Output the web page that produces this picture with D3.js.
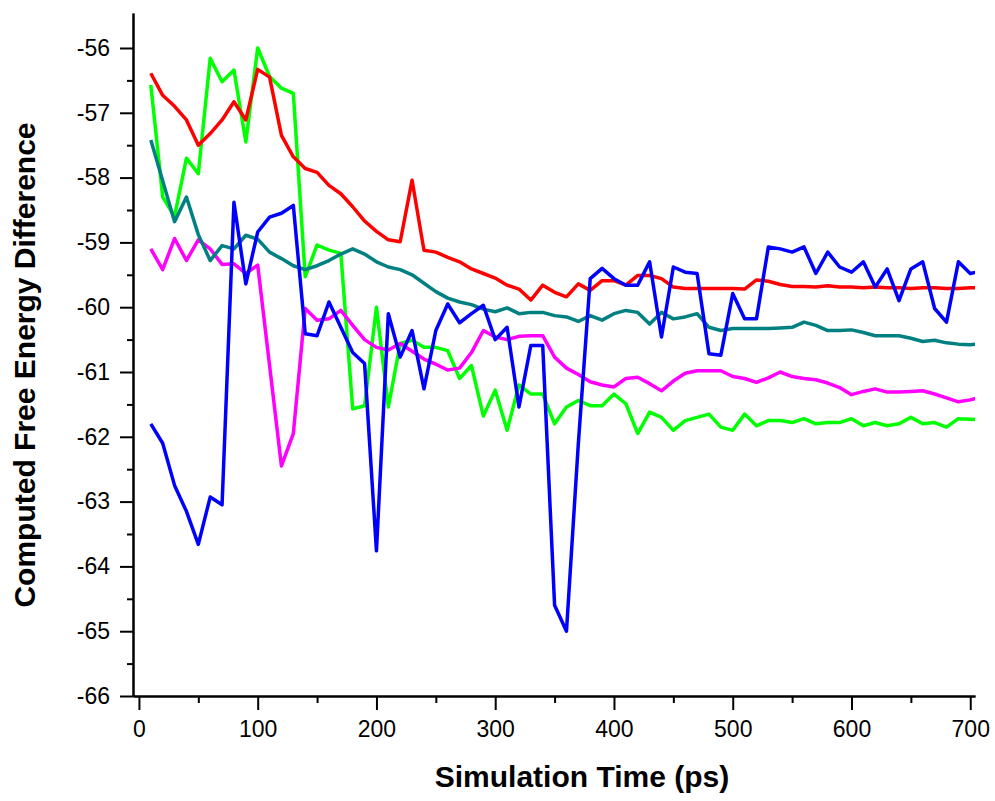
<!DOCTYPE html>
<html>
<head>
<meta charset="utf-8">
<script src="https://cdnjs.cloudflare.com/ajax/libs/d3/7.8.5/d3.min.js"></script>
<style>
  body { margin: 0; background: #fff; }
  svg { display: block; }
  .axis path, .axis line { stroke: #000; stroke-width: 2; }
  .axis text { font-family: "Liberation Sans", Arial, sans-serif; font-size: 23px; fill: #000; }
  .title { font-family: "Liberation Sans", Arial, sans-serif; font-weight: bold; font-size: 30px; fill: #000; }
</style>
</head>
<body>
<svg id="svg1" width="995" height="801"></svg>
<script>
// sampling times (ps)
var timePs = [10,20,30,40,50,60,70,80,90,100,110,120,130,140,150,160,170,180,190,200,
  210,220,230,240,250,260,270,280,290,300,310,320,330,340,350,360,370,380,390,400,
  410,420,430,440,450,460,470,480,490,500,510,520,530,540,550,560,570,580,590,600,
  610,620,630,640,650,660,670,680,690,700,710];

var redValues = [-56.39,-56.73,-56.9,-57.11,-57.5,-57.32,-57.11,-56.83,-57.11,-56.33,
  -56.45,-57.35,-57.68,-57.86,-57.92,-58.12,-58.25,-58.45,-58.67,-58.83,
  -58.96,-58.99,-58.04,-59.12,-59.15,-59.23,-59.3,-59.41,-59.48,-59.55,
  -59.66,-59.72,-59.89,-59.66,-59.77,-59.84,-59.64,-59.74,-59.59,-59.59,
  -59.66,-59.51,-59.51,-59.56,-59.69,-59.71,-59.71,-59.71,-59.71,-59.71,
  -59.72,-59.58,-59.6,-59.65,-59.68,-59.68,-59.69,-59.67,-59.69,-59.69,
  -59.7,-59.69,-59.7,-59.7,-59.71,-59.7,-59.7,-59.71,-59.71,-59.7,-59.7];

var greenValues = [-56.57,-58.3,-58.6,-57.7,-57.94,-56.16,-56.52,-56.34,-57.45,-56.0,
  -56.44,-56.62,-56.7,-59.53,-59.04,-59.12,-59.17,-61.57,-61.52,-60.0,
  -61.54,-60.56,-60.51,-60.62,-60.62,-60.67,-61.1,-60.9,-61.68,-61.28,
  -61.9,-61.2,-61.34,-61.34,-61.8,-61.54,-61.44,-61.52,-61.52,-61.34,
  -61.49,-61.95,-61.62,-61.7,-61.9,-61.75,-61.7,-61.65,-61.85,-61.9,
  -61.65,-61.83,-61.75,-61.75,-61.78,-61.72,-61.8,-61.78,-61.78,-61.72,
  -61.83,-61.78,-61.83,-61.8,-61.7,-61.8,-61.78,-61.85,-61.72,-61.73,-61.74];

var tealValues = [-57.42,-58.05,-58.68,-58.3,-58.88,-59.28,-59.05,-59.1,-58.89,-58.95,
  -59.15,-59.25,-59.36,-59.42,-59.36,-59.28,-59.18,-59.1,-59.18,-59.3,
  -59.38,-59.42,-59.5,-59.63,-59.76,-59.86,-59.92,-59.96,-60.03,-60.07,
  -60.01,-60.1,-60.08,-60.08,-60.13,-60.15,-60.22,-60.13,-60.2,-60.1,
  -60.05,-60.08,-60.26,-60.08,-60.18,-60.15,-60.1,-60.31,-60.36,-60.33,
  -60.33,-60.33,-60.33,-60.32,-60.31,-60.23,-60.28,-60.36,-60.36,-60.35,
  -60.39,-60.44,-60.44,-60.44,-60.48,-60.53,-60.51,-60.55,-60.57,-60.58,-60.56];

var magentaValues = [-59.1,-59.42,-58.94,-59.28,-58.96,-59.1,-59.34,-59.33,-59.48,-59.35,
  -60.9,-62.45,-61.95,-60.02,-60.2,-60.18,-60.05,-60.28,-60.5,-60.62,
  -60.66,-60.56,-60.68,-60.8,-60.88,-60.97,-60.94,-60.7,-60.36,-60.46,
  -60.5,-60.45,-60.44,-60.44,-60.77,-60.94,-61.04,-61.15,-61.2,-61.23,
  -61.1,-61.08,-61.18,-61.29,-61.14,-61.02,-60.98,-60.98,-60.98,-61.07,
  -61.1,-61.16,-61.09,-61.0,-61.07,-61.1,-61.12,-61.17,-61.24,-61.35,
  -61.3,-61.26,-61.31,-61.31,-61.3,-61.29,-61.34,-61.4,-61.46,-61.43,-61.38];

var blueValues = [-61.8,-62.1,-62.75,-63.15,-63.66,-62.93,-63.05,-58.38,-59.64,-58.84,
  -58.61,-58.55,-58.43,-60.41,-60.44,-59.92,-60.31,-60.7,-60.87,-63.76,
  -60.1,-60.77,-60.36,-61.26,-60.36,-59.95,-60.24,-60.1,-59.97,-60.5,
  -60.31,-61.54,-60.59,-60.59,-64.6,-65.0,-62.1,-59.56,-59.4,-59.56,
  -59.66,-59.66,-59.3,-60.46,-59.38,-59.46,-59.48,-60.72,-60.74,-59.79,
  -60.18,-60.18,-59.07,-59.1,-59.15,-59.07,-59.48,-59.15,-59.38,-59.46,
  -59.3,-59.69,-59.41,-59.9,-59.41,-59.3,-60.02,-60.23,-59.3,-59.48,-59.44];

var xTickValues = [0,100,200,300,400,500,600,700];
var yTickValues = [-56,-57,-58,-59,-60,-61,-62,-63,-64,-65,-66];

// drawing order: first is at the bottom
var seriesList = [
  {name: 'green', values: greenValues, color: '#00ff00'},
  {name: 'magenta', values: magentaValues, color: '#ff00ff'},
  {name: 'teal', values: tealValues, color: '#008080'},
  {name: 'red', values: redValues, color: '#ff0000'},
  {name: 'blue', values: blueValues, color: '#0000ff'}
];

var svg = d3.select('#svg1');

// plot box in pixels
var plotLeft = 133, plotRight = 975, plotTop = 13, plotBottom = 696;

var x = d3.scaleLinear().domain([-5, 704]).range([plotLeft, plotRight]);
var y = d3.scaleLinear().domain([-66, -55.46]).range([plotBottom, plotTop]);

// clip lines to the plot box
svg.append('clipPath').attr('id', 'plotClip')
  .append('rect')
  .attr('x', plotLeft).attr('y', plotTop)
  .attr('width', plotRight - plotLeft).attr('height', plotBottom - plotTop);

var line = d3.line()
  .x(function(d){ return x(d[0]); })
  .y(function(d){ return y(d[1]); });

var lines = svg.append('g').attr('clip-path', 'url(#plotClip)');

seriesList.forEach(function(s){
  lines.append('path')
    .datum(timePs.map(function(t, i){ return [t, s.values[i]]; }))
    .attr('d', line)
    .attr('fill', 'none')
    .attr('stroke', s.color)
    .attr('stroke-width', 3.5)
    .attr('stroke-linejoin', 'round');
});

// minor ticks first, then major axes on top
svg.append('g')
  .attr('class', 'axis')
  .attr('transform', 'translate(0,' + plotBottom + ')')
  .call(d3.axisBottom(x).tickValues([50,150,250,350,450,550,650]).tickSize(7).tickSizeOuter(0).tickFormat(''));

svg.append('g')
  .attr('class', 'axis')
  .attr('transform', 'translate(' + plotLeft + ',0)')
  .call(d3.axisLeft(y).tickValues([-56.5,-57.5,-58.5,-59.5,-60.5,-61.5,-62.5,-63.5,-64.5,-65.5]).tickSize(6).tickSizeOuter(0).tickFormat(''));

var xAxis = svg.append('g')
  .attr('class', 'axis')
  .attr('transform', 'translate(0,' + plotBottom + ')')
  .call(d3.axisBottom(x).tickValues(xTickValues).tickSize(14).tickSizeOuter(0).tickPadding(11).tickFormat(d3.format('d')));

var yAxis = svg.append('g')
  .attr('class', 'axis')
  .attr('transform', 'translate(' + plotLeft + ',0)')
  .call(d3.axisLeft(y).tickValues(yTickValues).tickSize(13).tickSizeOuter(0).tickPadding(10).tickFormat(d3.format('d')));

// d3 uses a unicode minus, the original uses a plain hyphen
yAxis.selectAll('text').text(function(d){ return String(d); });

svg.append('text')
  .attr('class', 'title')
  .attr('x', 582)
  .attr('y', 787)
  .attr('text-anchor', 'middle')
  .text('Simulation Time (ps)');

svg.append('text')
  .attr('class', 'title')
  .attr('transform', 'translate(35,365) rotate(-90)')
  .attr('text-anchor', 'middle')
  .text('Computed Free Energy Difference');
</script>
</body>
</html>
